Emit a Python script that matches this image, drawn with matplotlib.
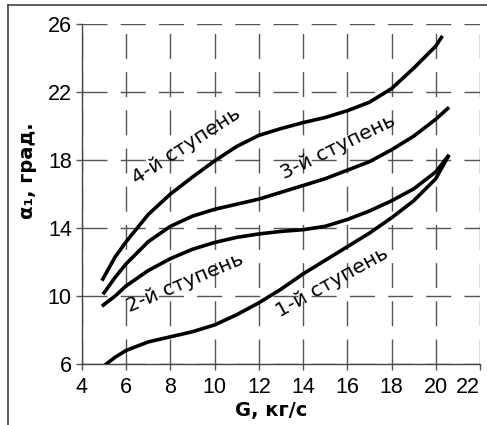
import matplotlib
matplotlib.use("Agg")
import matplotlib.pyplot as plt
from matplotlib.lines import Line2D

# values
g_1 = [5.05, 5.5, 6, 7, 8, 9, 10, 11, 12, 13, 14, 15, 16, 17, 18, 19, 20, 20.6]
a_1 = [5.95, 6.4, 6.8, 7.3, 7.6, 7.9, 8.3, 8.9, 9.6, 10.4, 11.3, 12.1, 12.9, 13.7, 14.6, 15.6, 16.9, 18.3]
g_2 = [4.9, 5.5, 6, 7, 8, 9, 10, 11, 12, 13, 14, 15, 16, 17, 18, 19, 20, 20.6]
a_2 = [9.4, 10.0, 10.6, 11.5, 12.2, 12.75, 13.15, 13.45, 13.65, 13.8, 13.9, 14.1, 14.5, 15.0, 15.6, 16.3, 17.3, 18.3]
g_3 = [4.95, 5.5, 6, 7, 8, 9, 10, 11, 12, 13, 14, 15, 16, 17, 18, 19, 20, 20.6]
a_3 = [10.1, 11.1, 11.9, 13.2, 14.1, 14.7, 15.1, 15.4, 15.7, 16.1, 16.5, 16.9, 17.4, 17.9, 18.6, 19.4, 20.4, 21.1]
g_4 = [4.9, 5.5, 6, 7, 8, 9, 10, 11, 12, 13, 14, 15, 16, 17, 18, 19, 20, 20.3]
a_4 = [10.9, 12.3, 13.2, 14.8, 16.0, 17.0, 17.95, 18.8, 19.45, 19.85, 20.2, 20.5, 20.9, 21.4, 22.2, 23.4, 24.7, 25.3]

labels = ["1-й ступень", "2-й ступень", "3-й ступень", "4-й ступень"]
label_pos = [(15.3, 10.8), (8.66, 10.8), (15.6, 18.75), (8.7, 18.85)]
label_rot = [29, 23, 26, 33]

x_ticks = [4, 6, 8, 10, 12, 14, 16, 18, 20, 22]
y_ticks = [6, 10, 14, 18, 22, 26]

fig = plt.figure(figsize=(4.87, 4.25), dpi=100)
ax = fig.add_axes([82/487, 1-364/425, 398/487, 340/425])

for g, a in [(g_1, a_1), (g_2, a_2), (g_3, a_3), (g_4, a_4)]:
    ax.plot(g, a, color='black', lw=2.6, solid_capstyle='butt', zorder=3)

for txt, (x, y), r in zip(labels, label_pos, label_rot):
    ax.text(x, y, txt, rotation=r, rotation_mode='anchor', ha='center', va='center',
            fontsize=14.5, family='DejaVu Sans', color='black', zorder=4)

ax.set_xlim(4, 22)
ax.set_ylim(6, 26)
ax.set_xticks(x_ticks)
ax.set_yticks(y_ticks)
ax.grid(True, color='#555555', lw=1.0, linestyle=(0, (18, 9.5)))
ax.tick_params(axis='both', length=4.3, width=1.0, color='#555555', labelsize=15.5)
ax.tick_params(axis='x', pad=5)
ax.tick_params(axis='y', pad=3)
for lab in ax.get_xticklabels() + ax.get_yticklabels():
    lab.set_family('Liberation Sans')
ax.get_xticklabels()[-1].set_ha('right')

for s in ['top', 'right']:
    ax.spines[s].set_visible(False)
for s in ['left', 'bottom']:
    ax.spines[s].set_color('#444444')
    ax.spines[s].set_linewidth(1.0)

ax.set_xlabel("G, кг/с", fontsize=14, fontweight='bold', va='center')
ax.xaxis.set_label_coords(0.475, -0.138)
ax.set_ylabel("α₁, град.", fontsize=14, fontweight='bold', va='center')
ax.yaxis.set_label_coords(-0.136, 0.57)

# frame remnants at the left and top of the picture
fig.add_artist(Line2D([8/487, 8/487], [0, 1-5/425], transform=fig.transFigure, color='#444444', lw=1.2))
fig.add_artist(Line2D([8/487, 1], [1-5/425, 1-5/425], transform=fig.transFigure, color='#444444', lw=1.2))

fig.savefig("out.png", dpi=100)
